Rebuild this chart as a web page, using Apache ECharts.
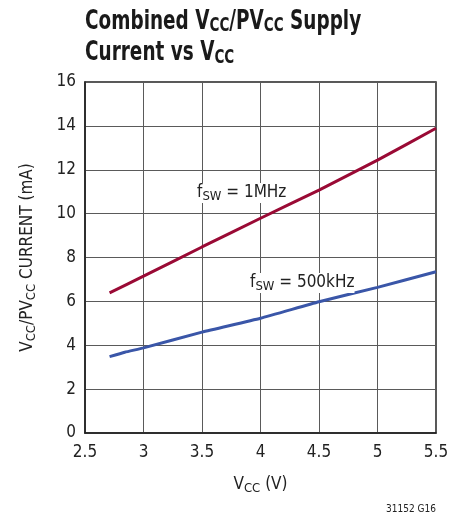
<!DOCTYPE html>
<html><head><meta charset="utf-8">
<script src="https://cdn.jsdelivr.net/npm/echarts@6/dist/echarts.min.js"></script>
<style>html,body{margin:0;padding:0;background:#fff}#c{width:465px;height:519px}</style>
</head><body><div id="c"></div>
<script>
const xTicks = [2.5, 3, 3.5, 4, 4.5, 5, 5.5];
const yTicks = [0, 2, 4, 6, 8, 10, 12, 14, 16];
const vcc1M = [2.71, 3.0, 3.5, 4.0, 4.5, 5.0, 5.5];
const cur1M = [6.39, 7.15, 8.48, 9.79, 11.07, 12.44, 13.89];
const vcc500k = [2.71, 2.84, 3.0, 3.5, 4.0, 4.5, 5.0, 5.5];
const cur500k = [3.48, 3.68, 3.88, 4.60, 5.23, 5.98, 6.64, 7.35];

const FONT = '"DejaVu Sans Condensed", "Liberation Sans", Arial, sans-serif';
const zip = (a, b) => a.map((v, i) => [v, b[i]]);
const chart = echarts.init(document.getElementById('c'));
const txt = {a: {fontSize: 17, fontFamily: FONT, color: '#222'}, s: {fontSize: 13, fontFamily: FONT, color: '#222', padding: [7, 0, 0, 0]}};
const gtxt = {a: {fontSize: 17, fontFamily: FONT, fill: '#222'}, s: {fontSize: 13, fontFamily: FONT, fill: '#222', padding: [7, 0, 0, 0]}};
chart.setOption({
  animation: false,
  grid: {left: 85, top: 82, right: 29, bottom: 86, show: true, borderColor: '#222', borderWidth: 1.5, backgroundColor: 'transparent'},
  xAxis: {
    type: 'value', min: xTicks[0], max: xTicks[xTicks.length - 1], interval: 0.5,
    axisLine: {lineStyle: {color: '#222', width: 1.5}},
    axisTick: {show: false},
    splitLine: {show: true, lineStyle: {color: '#5a5a5a', width: 1}},
    axisLabel: {color: '#222', fontSize: 17, fontFamily: FONT, margin: 11},
    name: '{a|V}{s|CC}{a| (V)}', nameLocation: 'middle', nameGap: 42,
    nameTextStyle: {rich: txt}
  },
  yAxis: {
    type: 'value', min: yTicks[0], max: yTicks[yTicks.length - 1], interval: 2,
    axisLine: {show: true, lineStyle: {color: '#222', width: 1.5}},
    axisTick: {show: false},
    splitLine: {show: true, lineStyle: {color: '#5a5a5a', width: 1}},
    axisLabel: {color: '#222', fontSize: 17, fontFamily: FONT, margin: 9},
    name: '{a|V}{s|CC}{a|/PV}{s|CC}{a| CURRENT (mA)}', nameLocation: 'middle', nameGap: 47,
    nameTextStyle: {rich: txt}
  },
  series: [
    {type: 'line', data: zip(vcc1M, cur1M), smooth: 0.15, showSymbol: false,
     lineStyle: {color: '#9a0a35', width: 3}, z: 5},
    {type: 'line', data: zip(vcc500k, cur500k), smooth: 0.15, showSymbol: false,
     lineStyle: {color: '#3a56a8', width: 3}, z: 5}
  ],
  graphic: [
    {type: 'text', x: 85, y: 6, scaleX: 1, scaleY: 1.27, style: {
      text: '{b|Combined V}{bs|CC}{b|/PV}{bs|CC}{b| Supply}\n{b|Current vs V}{bs|CC}',
      rich: {b: {fontSize: 20.5, fontWeight: 'bold', fontFamily: FONT, fill: '#1a1a1a', lineHeight: 25},
             bs: {fontSize: 15, fontWeight: 'bold', fontFamily: FONT, fill: '#1a1a1a', padding: [7, 0, 0, 0], lineHeight: 25}}}},
    {type: 'text', left: 197, top: 183, z: 10, style: {
      text: '{a|f}{s|SW}{a| = 1MHz}', backgroundColor: '#fff', rich: gtxt}},
    {type: 'text', left: 250, top: 273, z: 10, style: {
      text: '{a|f}{s|SW}{a| = 500kHz}', backgroundColor: '#fff', rich: gtxt}},
    {type: 'text', right: 29, top: 504, style: {text: '31152 G16', fontSize: 10, fontFamily: FONT, fill: '#222'}}
  ]
});
</script></body></html>
